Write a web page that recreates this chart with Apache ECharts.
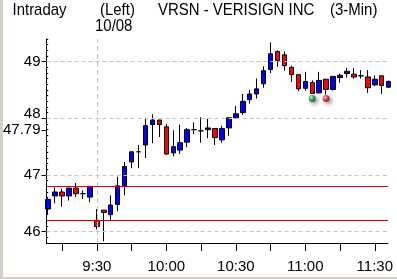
<!DOCTYPE html>
<html>
<head>
<meta charset="utf-8">
<script src="https://cdn.jsdelivr.net/npm/echarts@6.0.0/dist/echarts.min.js"></script>
<style>
  html, body { margin: 0; padding: 0; background: #fff; }
  #chart { width: 397px; height: 279px; }
</style>
</head>
<body>
<div id="chart"></div>
<script>
// VRSN 3-minute bars: last bars of the prior session, then 10/08 from 9:30
const openP  = [46.40, 46.63, 46.70, 46.63, 46.77, 46.67, 46.61, 46.20, 46.38, 46.30,
                46.48, 46.81, 47.23, 47.41, 47.53, 47.89, 47.97, 47.85, 47.39, 47.44,
                47.58, 47.80, 47.78, 47.80, 47.82, 47.62, 47.83, 48.01, 48.10, 48.33,
                48.43, 48.61, 48.86, 49.18, 49.12, 48.90, 48.77, 48.53, 48.63, 48.45,
                48.69, 48.51, 48.72, 48.79, 48.78, 48.75, 48.73, 48.59, 48.75, 48.55];
const closeP = [46.57, 46.70, 46.63, 46.77, 46.67, 46.67, 46.80, 46.09, 46.34, 46.47,
                46.81, 47.15, 47.41, 47.41, 47.87, 47.97, 47.89, 47.37, 47.50, 47.57,
                47.80, 47.80, 47.78, 47.83, 47.66, 47.82, 48.01, 48.08, 48.30, 48.43,
                48.52, 48.84, 49.14, 49.02, 48.93, 48.77, 48.52, 48.65, 48.44, 48.67,
                48.51, 48.74, 48.76, 48.83, 48.73, 48.75, 48.54, 48.69, 48.58, 48.65];
const lowP   = [46.31, 46.50, 46.44, 46.55, 46.61, 46.58, 46.52, 46.04, 45.83, 46.21,
                46.36, 46.64, 47.12, 47.12, 47.30, 47.56, 47.67, 47.36, 47.33, 47.37,
                47.49, 47.72, 47.57, 47.65, 47.53, 47.57, 47.69, 47.99, 48.06, 48.26,
                48.35, 48.54, 48.80, 48.91, 48.84, 48.64, 48.48, 48.49, 48.43, 48.44,
                48.42, 48.49, 48.63, 48.72, 48.70, 48.70, 48.45, 48.57, 48.43, 48.54];
const highP  = [46.59, 46.78, 46.76, 46.77, 46.86, 46.73, 46.80, 46.40, 46.38, 46.64,
                46.97, 47.23, 47.41, 47.53, 48.01, 48.07, 47.97, 47.90, 47.79, 47.89,
                47.83, 47.93, 48.02, 47.99, 47.82, 47.87, 48.01, 48.22, 48.43, 48.50,
                48.70, 48.92, 49.34, 49.20, 49.18, 48.93, 48.77, 48.82, 48.67, 48.82,
                48.69, 48.74, 48.79, 48.89, 48.89, 48.85, 48.85, 48.76, 48.75, 48.67];

// price axis
const priceTicks = [46, 47, 48, 49];
const refPrice = 47.79;
const bandLevels = [46.81, 46.21];

// time axis (bar index positions)
const timeLabels = ['9:30', '10:00', '10:30', '11:00', '11:30'];
const timeLabelIndex = [7, 17, 27, 37, 47];
const timeTickIndex = [2, 7, 12, 17, 22, 27, 32, 37, 42, 47];
const sessionStartIndex = 7;

// buy / sell signal markers
const signalIndex = [38, 40];
const signalPrice = [48.35, 48.35];
const signalColor = [['#c8ffd8', '#12a050', '#05502a'], ['#ffd0d0', '#e3202a', '#801010']];

const FONT = '"Liberation Sans", Arial, sans-serif';
const candles = openP.map((o, i) => [i, o, closeP[i], lowP[i], highP[i]]);

const chart = echarts.init(document.getElementById('chart'), null, { renderer: 'canvas' });

function titleText(text, x, y) {
  return {
    type: 'text', x: x, y: y, scaleX: 0.88, silent: true,
    style: { text: text, fill: '#000', font: '17px ' + FONT, textVerticalAlign: 'middle', textAlign: 'left' }
  };
}

chart.setOption({
  animation: false,
  backgroundColor: '#fff',
  grid: { left: 44, right: 9, top: 39, bottom: 36, containLabel: false },
  xAxis: {
    type: 'value', min: -0.24, max: 48.9,
    axisLine: { show: true, onZero: false, lineStyle: { color: '#000', width: 1 } },
    axisTick: { show: true, customValues: timeTickIndex, length: 8, lineStyle: { color: '#000' } },
    axisLabel: {
      customValues: timeLabelIndex, margin: 16, color: '#000', fontSize: 15, fontFamily: FONT,
      formatter: v => timeLabels[timeLabelIndex.indexOf(Math.round(v))] || ''
    },
    splitLine: { show: false }
  },
  yAxis: [
    {
      type: 'value', min: 45.8, max: 49.4, position: 'left',
      axisLine: { show: true, onZero: false, lineStyle: { color: '#000', width: 1 } },
      axisTick: { show: true, customValues: priceTicks.concat([refPrice]), length: 5, lineStyle: { color: '#000' } },
      axisLabel: {
        customValues: priceTicks.concat([refPrice]), margin: 6, color: '#000', fontSize: 15, fontFamily: FONT,
        formatter: v => (Math.abs(v - 48) < 1e-6 ? '{up|48}' : (Math.abs(v - refPrice) < 1e-6 ? refPrice.toFixed(2) : String(Math.round(v)))),
        rich: { up: { fontSize: 15, fontFamily: FONT, color: '#000', padding: [0, 0, 9, 0] } }
      },
      splitLine: { show: false }
    },
    {
      type: 'value', min: 45.8, max: 49.4, interval: 0.1, position: 'left', offset: 0,
      axisLine: { show: false },
      axisTick: { show: true, length: 2, lineStyle: { color: '#000' } },
      axisLabel: { show: false },
      splitLine: { show: false }
    }
  ],
  graphic: [
    { type: 'rect', shape: { x: 0, y: 0, width: 3, height: 279 }, style: { fill: '#d4d0c8' }, silent: true },
    { type: 'rect', shape: { x: 0, y: 277, width: 397, height: 2 }, style: { fill: '#d4d0c8' }, silent: true },
    titleText('Intraday', 12.5, 10.5),
    titleText('(Left)', 100, 10.5),
    titleText('VRSN - VERISIGN INC', 158, 10.5),
    titleText('(3-Min)', 330, 10.5),
    titleText('10/08', 95, 26.8)
  ],
  series: [
    {
      type: 'scatter', z: 1, silent: true,
      symbol: 'circle', symbolSize: 7,
      data: signalIndex.map((x, k) => ({
        value: [x, signalPrice[k]],
        itemStyle: {
          color: new echarts.graphic.RadialGradient(0.35, 0.35, 0.7, [
            { offset: 0, color: signalColor[k][0] },
            { offset: 0.45, color: signalColor[k][1] },
            { offset: 1, color: signalColor[k][2] }
          ]),
          shadowBlur: 4, shadowColor: 'rgba(0,0,0,0.55)', shadowOffsetX: 2, shadowOffsetY: 2
        }
      })),
      markLine: {
        silent: true, symbol: ['none', 'none'], label: { show: false }, animation: false,
        data: priceTicks.map(v => ({ yAxis: v, lineStyle: { type: [4, 3], color: '#c4c4c4', width: 1 } }))
          .concat([{ xAxis: sessionStartIndex, lineStyle: { type: [5, 3], color: '#c4c4c4', width: 1 } }])
          .concat(bandLevels.map(v => ({ yAxis: v, lineStyle: { type: 'solid', color: '#e00000', width: 1 } })))
      }
    },
    {
      type: 'candlestick', z: 3, clip: true,
      data: candles,
      encode: { x: 0, y: [1, 2, 3, 4] },
      barWidth: 5,
      itemStyle: {
        color: '#0000ff', color0: '#ff0000',
        borderColor: '#000', borderColor0: '#000', borderColorDoji: '#000', borderWidth: 1
      }
    }
  ]
});
</script>
</body>
</html>
